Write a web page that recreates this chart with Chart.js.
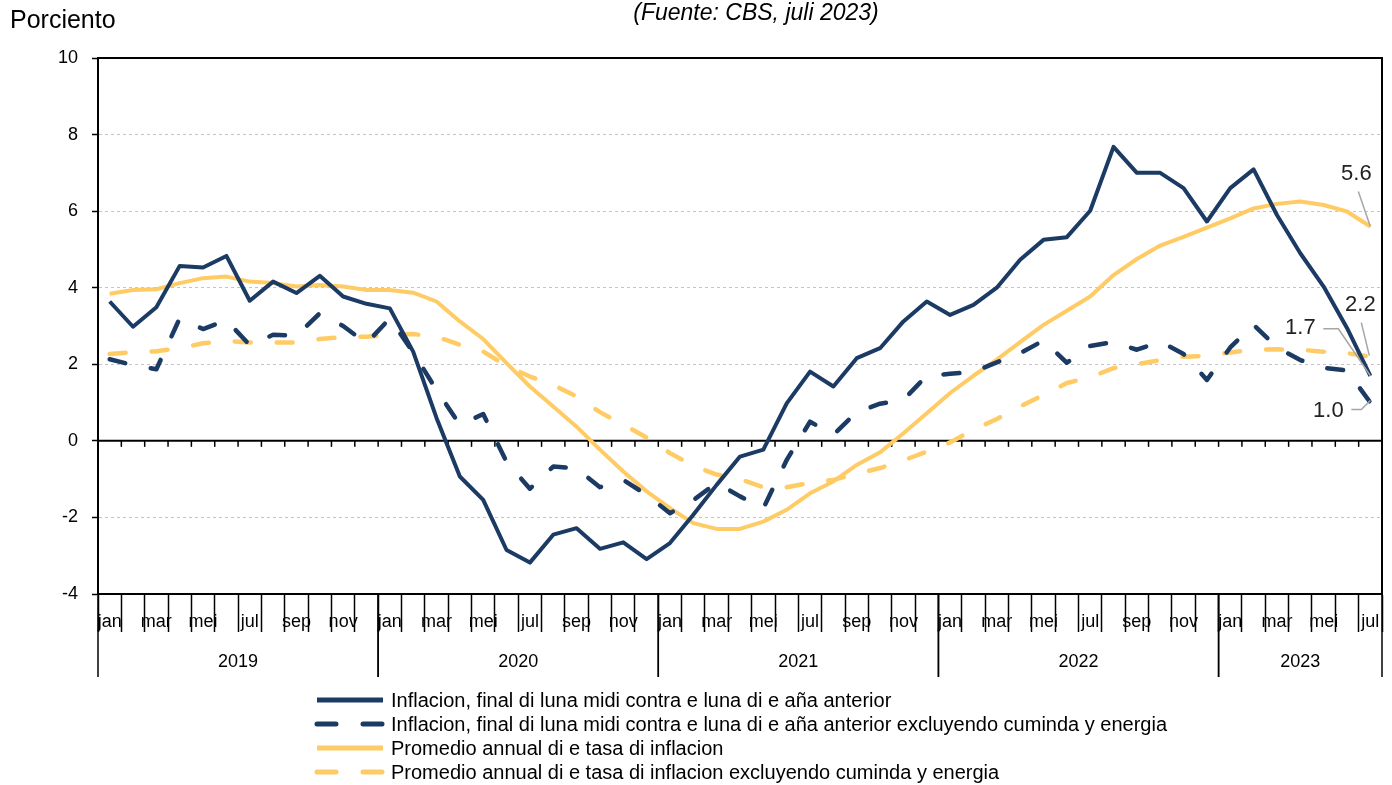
<!DOCTYPE html>
<html>
<head>
<meta charset="utf-8">
<script src="https://cdn.jsdelivr.net/npm/chart.js@4"></script>
<style>
    body { margin: 0; background: #fff; }
    #wrap { position: relative; width: 1392px; height: 785px; font-family: 'Liberation Sans', Arial, sans-serif; color: #000; }
    canvas { position: absolute; left: 0; top: 0; }
    .unit { position: absolute; left: 10px; top: 5px; font-size: 25px; }
    .source { position: absolute; left: 506px; width: 500px; top: -1px; text-align: center; font-size: 23px; font-style: italic; }
    #legend { position: absolute; left: 314px; top: 688px; font-size: 20px; }
    #legend .row { display: flex; align-items: center; height: 24px; }
    #legend svg { margin-right: 5px; }
</style>
</head>
<body>
<div id="wrap">
    <canvas id="chart" width="1392" height="785"></canvas>
    <div class="unit">Porciento</div>
    <div class="source">(Fuente: CBS, juli 2023)</div>
    <div id="legend"></div>
</div>
<script>
const monthNames = ['jan', 'feb', 'mar', 'apr', 'mei', 'jun', 'jul', 'aug', 'sep', 'okt', 'nov', 'dec'];
const years = ['2019', '2020', '2021', '2022', '2023'];
const monthsInYear = [12, 12, 12, 12, 7];

const seriesNames = [
    'Inflacion, final di luna midi contra e luna di e aña anterior',
    'Inflacion, final di luna midi contra e luna di e aña anterior excluyendo cuminda y energia',
    'Promedio annual di e tasa di inflacion',
    'Promedio annual di e tasa di inflacion excluyendo cuminda y energia'
];

// jan 2019 .. jul 2023
const inflation = [
    3.64, 2.98, 3.49, 4.57, 4.53, 4.83, 3.66, 4.16, 3.86, 4.31, 3.77, 3.58,
    3.46, 2.33, 0.60, -0.93, -1.54, -2.85, -3.18, -2.45, -2.28, -2.82, -2.65, -3.09,
    -2.67, -1.93, -1.15, -0.41, -0.23, 0.98, 1.81, 1.42, 2.16, 2.42, 3.12, 3.64,
    3.29, 3.55, 4.00, 4.73, 5.25, 5.32, 6.01, 7.68, 7.00, 7.00, 6.60, 5.73,
    6.60, 7.09, 5.90, 4.90, 4.03, 2.95, 1.7
];
const inflationCore = [
    2.13, 1.98, 1.87, 3.20, 2.92, 3.15, 2.50, 2.77, 2.75, 3.33, 3.00, 2.55,
    3.20, 2.31, 1.33, 0.42, 0.70, -0.55, -1.25, -0.67, -0.72, -1.21, -1.02, -1.41,
    -1.89, -1.55, -1.10, -1.45, -1.76, -0.50, 0.50, 0.16, 0.75, 0.97, 1.07, 1.70,
    1.75, 1.80, 2.05, 2.29, 2.62, 2.04, 2.48, 2.58, 2.38, 2.59, 2.27, 1.59,
    2.44, 3.03, 2.44, 2.11, 1.91, 1.84, 1.0
];
const avgInflation = [
    3.84, 3.94, 3.96, 4.12, 4.25, 4.29, 4.16, 4.12, 4.03, 4.07, 4.03, 3.94,
    3.94, 3.87, 3.64, 3.12, 2.66, 2.03, 1.42, 0.90, 0.37, -0.23, -0.80, -1.32,
    -1.76, -2.15, -2.30, -2.30, -2.11, -1.80, -1.37, -1.06, -0.63, -0.30, 0.20, 0.72,
    1.25, 1.70, 2.12, 2.58, 3.03, 3.40, 3.77, 4.33, 4.75, 5.10, 5.33, 5.57,
    5.81, 6.07, 6.19, 6.25, 6.16, 5.99, 5.6
];
const avgInflationCore = [
    2.27, 2.32, 2.34, 2.42, 2.55, 2.61, 2.57, 2.57, 2.57, 2.66, 2.71, 2.72,
    2.77, 2.79, 2.72, 2.51, 2.33, 1.96, 1.68, 1.46, 1.16, 0.75, 0.42, 0.09,
    -0.32, -0.65, -0.88, -1.00, -1.21, -1.21, -1.10, -1.02, -0.86, -0.71, -0.51, -0.28,
    -0.04, 0.29, 0.57, 0.90, 1.20, 1.51, 1.66, 1.90, 2.00, 2.11, 2.20, 2.22,
    2.31, 2.38, 2.39, 2.38, 2.33, 2.29, 2.2
];

const monthLabels = [];
monthsInYear.forEach(n => {
    for (let m = 0; m < n; m++) monthLabels.push(monthNames[m]);
});

const NAVY = '#1b3a64';
const GOLD = '#ffcb65';
const DASH = [16, 26];
const FONT = "'Liberation Sans', Arial, sans-serif";

// where the value labels at the end of each line go, relative to the last point
const endLabelStyle = [
    { dx: -70, dy: -48, leader: [[-47, -47], [-32, -47], [0, 0]] },
    { dx: -42, dy: 8, leader: [[-19, 7], [-9, 7], [0, -2]] },
    { dx: -14, dy: -53, leader: [[-12, -35], [0, 0]] },
    { dx: -10, dy: -52, leader: [[-9, -34], [-1, -1]] }
];

const decor = {
    id: 'decor',
    beforeDatasetsDraw(chart) {
        const { ctx, chartArea: a, scales: { x, y } } = chart;
        const step = x.getPixelForValue(1) - x.getPixelForValue(0);
        const y0 = y.getPixelForValue(0);
        ctx.save();
        ctx.strokeStyle = '#000';
        ctx.lineWidth = 2;
        ctx.beginPath();
        ctx.moveTo(a.left, a.top);
        ctx.lineTo(a.right, a.top);
        ctx.lineTo(a.right, a.bottom);
        ctx.stroke();
        ctx.beginPath();
        ctx.moveTo(a.left, y0);
        ctx.lineTo(a.right, y0);
        ctx.stroke();
        ctx.lineWidth = 1.5;
        for (let i = 0; i <= monthLabels.length; i++) {
            const px = x.getPixelForValue(0) + (i - 0.5) * step;
            ctx.beginPath();
            ctx.moveTo(px, y0);
            ctx.lineTo(px, y0 + 6);
            ctx.stroke();
        }
        ctx.restore();
    },
    afterDatasetsDraw(chart) {
        const { ctx } = chart;
        ctx.save();
        ctx.font = '22px ' + FONT;
        ctx.textAlign = 'center';
        ctx.textBaseline = 'middle';
        chart.data.datasets.forEach((ds, i) => {
            const pts = chart.getDatasetMeta(i).data;
            const p = pts[pts.length - 1];
            const st = endLabelStyle[i];
            ctx.strokeStyle = '#a6a6a6';
            ctx.lineWidth = 1.5;
            ctx.beginPath();
            st.leader.forEach(([lx, ly], k) => {
                if (k === 0) ctx.moveTo(p.x + lx, p.y + ly);
                else ctx.lineTo(p.x + lx, p.y + ly);
            });
            ctx.stroke();
            ctx.fillStyle = '#222';
            ctx.fillText(ds.data[ds.data.length - 1].toFixed(1), p.x + st.dx, p.y + st.dy);
        });
        ctx.restore();
    },
    afterDraw(chart) {
        const { ctx, chartArea: a, scales: { x } } = chart;
        const step = x.getPixelForValue(1) - x.getPixelForValue(0);
        ctx.save();
        ctx.strokeStyle = '#000';
        ctx.lineWidth = 1.5;
        ctx.fillStyle = '#000';
        ctx.font = '18px ' + FONT;
        ctx.textAlign = 'center';
        ctx.textBaseline = 'middle';
        let start = 0;
        years.forEach((yr, i) => {
            const left = x.getPixelForValue(start) - step / 2;
            const right = left + monthsInYear[i] * step;
            [left, right].forEach(px => {
                ctx.beginPath();
                ctx.moveTo(px, a.bottom);
                ctx.lineTo(px, a.bottom + 83);
                ctx.stroke();
            });
            ctx.fillText(yr, (left + right) / 2, a.bottom + 68);
            start += monthsInYear[i];
        });
        ctx.restore();
    }
};

const line = (label, data, color, dashed) => ({
    label,
    data,
    borderColor: color,
    backgroundColor: color,
    borderWidth: dashed ? 4.5 : 4,
    borderDash: dashed ? DASH : [],
    borderCapStyle: dashed ? 'round' : 'butt',
    borderJoinStyle: 'round',
    pointRadius: 0,
    tension: 0,
    fill: false
});

new Chart(document.getElementById('chart'), {
    type: 'line',
    data: {
        labels: monthLabels,
        datasets: [
            line(seriesNames[0], inflation, NAVY, false),
            line(seriesNames[1], inflationCore, NAVY, true),
            line(seriesNames[2], avgInflation, GOLD, false),
            line(seriesNames[3], avgInflationCore, GOLD, true)
        ]
    },
    options: {
        responsive: false,
        animation: false,
        layout: { padding: { top: 58, right: 10, left: 0, bottom: 0 } },
        plugins: {
            legend: { display: false },
            tooltip: { enabled: false },
            title: { display: false }
        },
        scales: {
            x: {
                offset: true,
                afterFit: s => { s.height = 191; },
                grid: {
                    offset: true,
                    drawOnChartArea: false,
                    tickLength: 38,
                    tickColor: '#000',
                    tickWidth: 1.5
                },
                border: { color: '#000', width: 2 },
                ticks: {
                    autoSkip: false,
                    maxRotation: 0,
                    padding: -21,
                    color: '#000',
                    font: { family: FONT, size: 18 },
                    callback: (v, i) => (i % 2 === 0 ? monthLabels[i] : '')
                }
            },
            y: {
                min: -4,
                max: 10,
                afterFit: s => { s.width = 98; },
                grid: {
                    color: ctx => (ctx.tick && (ctx.tick.value === 0 || ctx.tick.value === 10) ? 'rgba(0,0,0,0)' : '#c4c4c4'),
                    lineWidth: 1,
                    tickLength: 6,
                    tickColor: '#000',
                    tickWidth: 1.5
                },
                border: { color: '#000', width: 2, dash: [3, 3] },
                ticks: {
                    stepSize: 2,
                    padding: 14,
                    color: '#000',
                    font: { family: FONT, size: 18 }
                }
            }
        }
    },
    plugins: [decor]
});

// legend
const legendItems = [
    { color: NAVY, dashed: false },
    { color: NAVY, dashed: true },
    { color: GOLD, dashed: false },
    { color: GOLD, dashed: true }
];
const legend = document.getElementById('legend');
legendItems.forEach((it, i) => {
    const row = document.createElement('div');
    row.className = 'row';
    const dash = it.dashed ? 'stroke-dasharray="19 27" stroke-linecap="round"' : '';
    row.innerHTML = '<svg width="72" height="10"><line x1="3" y1="5" x2="69" y2="5" stroke="' + it.color +
        '" stroke-width="5" ' + dash + '/></svg><span>' + seriesNames[i] + '</span>';
    legend.appendChild(row);
});
</script>
</body>
</html>
